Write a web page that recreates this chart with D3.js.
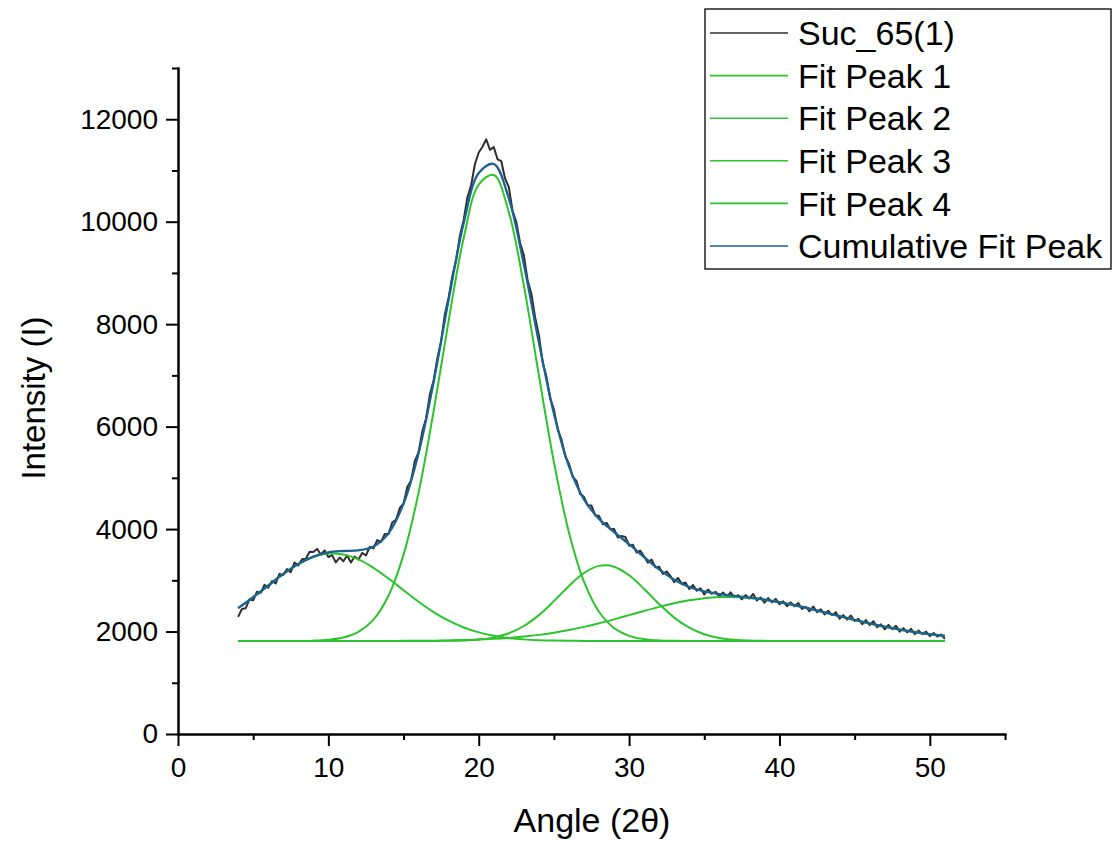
<!DOCTYPE html>
<html>
<head>
<meta charset="utf-8">
<script src="https://cdn.jsdelivr.net/npm/d3@7"></script>
<style>
    body { margin: 0; background: #fff; }
    text { font-family: "Liberation Sans", Arial, sans-serif; fill: #000; }
    .axis path, .axis line { stroke: #000; stroke-width: 2; }
    .rawline { fill: none; stroke: #2f2f2f; stroke-width: 2; stroke-linejoin: round; }
    .peakline { fill: none; stroke: #2cc42c; stroke-width: 2; }
    .cumline { fill: none; stroke: #1c6190; stroke-width: 2.3; }
</style>
</head>
<body>
<svg id="xrdchart"></svg>
<script>

// raw scan: Suc_65(1), one reading every 0.25 deg from 4 to 51
var rawStart = 4;
var rawStep = 0.25;
var rawIntensity = [
    2287, 2440, 2454, 2627, 2610, 2777, 2754, 2911, 2858, 2984, 2940, 3126,
    3102, 3221, 3160, 3348, 3287, 3413, 3420, 3556, 3552, 3613, 3504, 3584,
    3455, 3492, 3349, 3445, 3372, 3485, 3348, 3462, 3405, 3534, 3484, 3653,
    3622, 3786, 3750, 3905, 3899, 4133, 4178, 4412, 4496, 4823, 4950, 5326,
    5503, 5910, 6158, 6625, 6902, 7335, 7667, 8200, 8522, 8945, 9248, 9731,
    10034, 10478, 10722, 11126, 11350, 11464, 11608, 11402, 11456, 11218, 11181, 10844,
    10676, 10214, 9992, 9590, 9348, 8857, 8596, 8135, 7784, 7257, 6980, 6554,
    6337, 5950, 5752, 5425, 5278, 5016, 4938, 4681, 4629, 4464, 4459, 4264,
    4259, 4095, 4121, 3997, 4003, 3834, 3864, 3845, 3675, 3693, 3540, 3578,
    3465, 3345, 3404, 3254, 3263, 3123, 3173, 3083, 2963, 3047, 2932, 2956,
    2830, 2908, 2797, 2845, 2723, 2820, 2738, 2775, 2682, 2763, 2675, 2766,
    2667, 2709, 2631, 2712, 2644, 2734, 2605, 2665, 2565, 2652, 2570, 2637,
    2534, 2589, 2494, 2569, 2494, 2557, 2440, 2483, 2396, 2488, 2380, 2432,
    2334, 2405, 2317, 2378, 2249, 2321, 2233, 2314, 2206, 2249, 2142, 2224,
    2127, 2201, 2086, 2140, 2044, 2130, 2046, 2112, 1998, 2066, 1984, 2052,
    1950, 2020, 1950, 1999, 1909, 1971, 1903, 1944, 1856
];

// fitted curves, read at whole degrees
var fitAngle = [4, 5, 6, 7, 8, 9, 10, 11, 12, 13, 14, 15, 16, 17, 18, 19, 20, 21, 22, 23, 24, 25, 26, 27,
    28, 29, 30, 31, 32, 33, 34, 35, 36, 37, 38, 39, 40, 41, 42, 43, 44, 45, 46, 47, 48, 49, 50, 51];

var fitPeak1 = [2457, 2670, 2898, 3122, 3315, 3455, 3521, 3504, 3407, 3243, 3034, 2807, 2582, 2380, 2211, 2079,
    1983, 1916, 1873, 1847, 1832, 1823, 1819, 1817, 1815, 1815, 1815, 1815, 1815, 1815, 1815, 1815,
    1815, 1815, 1815, 1815, 1815, 1815, 1815, 1815, 1815, 1815, 1815, 1815, 1815, 1815, 1815, 1815];
var fitPeak2 = [1815, 1815, 1815, 1815, 1817, 1822, 1839, 1883, 1993, 2233, 2699, 3501, 4712, 6299, 8070, 9681,
    10725, 10912, 10185, 8756, 7002, 5307, 3935, 2974, 2386, 2069, 1916, 1852, 1827, 1819, 1815, 1815,
    1815, 1815, 1815, 1815, 1815, 1815, 1815, 1815, 1815, 1815, 1815, 1815, 1815, 1815, 1815, 1815];
var fitPeak3 = [1815, 1815, 1815, 1815, 1815, 1815, 1815, 1815, 1815, 1815, 1815, 1815, 1815, 1816, 1819, 1826,
    1844, 1886, 1967, 2108, 2320, 2594, 2890, 3142, 3282, 3266, 3099, 2831, 2535, 2272, 2075, 1947,
    1875, 1839, 1824, 1818, 1815, 1815, 1815, 1815, 1815, 1815, 1815, 1815, 1815, 1815, 1815, 1815];
var fitPeak4 = [1815, 1815, 1815, 1815, 1815, 1815, 1815, 1815, 1815, 1816, 1816, 1818, 1819, 1822, 1827, 1833,
    1843, 1857, 1876, 1902, 1935, 1978, 2029, 2091, 2161, 2238, 2320, 2402, 2481, 2552, 2610, 2651,
    2672, 2673, 2655, 2622, 2574, 2514, 2446, 2374, 2299, 2226, 2157, 2094, 2038, 1990, 1949, 1916];
var fitCumulative = [2457, 2670, 2898, 3122, 3317, 3462, 3545, 3572, 3585, 3662, 3919, 4496, 5483, 6872, 8482, 9974,
    10950, 11126, 10456, 9168, 7644, 6257, 5228, 4579, 4199, 3943, 3705, 3455, 3213, 3013, 2870, 2783,
    2732, 2697, 2664, 2625, 2574, 2514, 2446, 2374, 2299, 2226, 2157, 2094, 2038, 1990, 1949, 1916];

var xMajor = [0, 10, 20, 30, 40, 50];
var xMinor = [5, 15, 25, 35, 45, 55];
var yMajor = [0, 2000, 4000, 6000, 8000, 10000, 12000];
var yMinor = [1000, 3000, 5000, 7000, 9000, 11000, 13000];

var legendNames = ["Suc_65(1)", "Fit Peak 1", "Fit Peak 2", "Fit Peak 3", "Fit Peak 4", "Cumulative Fit Peak"];
var legendClass = ["rawline", "peakline", "peakline", "peakline", "peakline", "cumline"];

var width = 1118, height = 845;
var plotLeft = 178, plotRight = 1005, plotTop = 68, plotBottom = 734;

var svg = d3.select('#xrdchart')
    .attr('width', width)
    .attr('height', height);

var x = d3.scaleLinear().domain([0, 55]).range([plotLeft, plotRight]);
var y = d3.scaleLinear().domain([0, 13000]).range([plotBottom, plotTop]);

// axes: major ticks with labels, minor ticks without
svg.append('g').attr('class', 'axis')
    .attr('transform', 'translate(0,' + plotBottom + ')')
    .call(d3.axisBottom(x).tickValues(xMajor).tickSize(12).tickPadding(11).tickSizeOuter(0))
    .selectAll('text').style('font-size', '28px');
svg.append('g').attr('class', 'axis')
    .attr('transform', 'translate(0,' + plotBottom + ')')
    .call(d3.axisBottom(x).tickValues(xMinor).tickSize(6).tickFormat('').tickSizeOuter(0));

svg.append('g').attr('class', 'axis')
    .attr('transform', 'translate(' + plotLeft + ',0)')
    .call(d3.axisLeft(y).tickValues(yMajor).tickFormat(d3.format('d'))
        .tickSize(12).tickPadding(8).tickSizeOuter(0))
    .selectAll('text').style('font-size', '28px');
svg.append('g').attr('class', 'axis')
    .attr('transform', 'translate(' + plotLeft + ',0)')
    .call(d3.axisLeft(y).tickValues(yMinor).tickSize(6).tickFormat('').tickSizeOuter(0));

svg.selectAll('.axis path.domain').attr('stroke-linecap', 'square');

// axis titles
svg.append('text')
    .attr('x', 592).attr('y', 832)
    .attr('text-anchor', 'middle')
    .style('font-size', '34px')
    .text('Angle (2θ)');
svg.append('text')
    .attr('transform', 'translate(45,398) rotate(-90)')
    .attr('text-anchor', 'middle')
    .style('font-size', '33px')
    .text('Intensity (I)');

// curves
var rawLine = d3.line()
    .x(function (d, i) { return x(rawStart + i * rawStep); })
    .y(function (d) { return y(d); });

var fitLine = d3.line()
    .curve(d3.curveCatmullRom.alpha(0.5))
    .x(function (d, i) { return x(fitAngle[i]); })
    .y(function (d) { return y(d); });

svg.append('path').datum(rawIntensity).attr('class', 'rawline').attr('d', rawLine);

[fitPeak1, fitPeak2, fitPeak3, fitPeak4].forEach(function (s) {
    svg.append('path').datum(s).attr('class', 'peakline').attr('d', fitLine);
});

svg.append('path').datum(fitCumulative).attr('class', 'cumline').attr('d', fitLine);

// legend
var legend = svg.append('g');
legend.append('rect')
    .attr('x', 705).attr('y', 9)
    .attr('width', 406).attr('height', 260)
    .attr('fill', '#fff').attr('stroke', '#222').attr('stroke-width', 1.5);

legendNames.forEach(function (name, i) {
    var ly = 33 + i * 42.6;
    legend.append('line')
        .attr('class', legendClass[i])
        .style('stroke-width', 1.6)
        .attr('x1', 710).attr('x2', 788)
        .attr('y1', ly).attr('y2', ly);
    legend.append('text')
        .attr('x', 798).attr('y', ly)
        .attr('dy', '0.36em')
        .style('font-size', '34px')
        .text(name);
});

</script>
</body>
</html>
